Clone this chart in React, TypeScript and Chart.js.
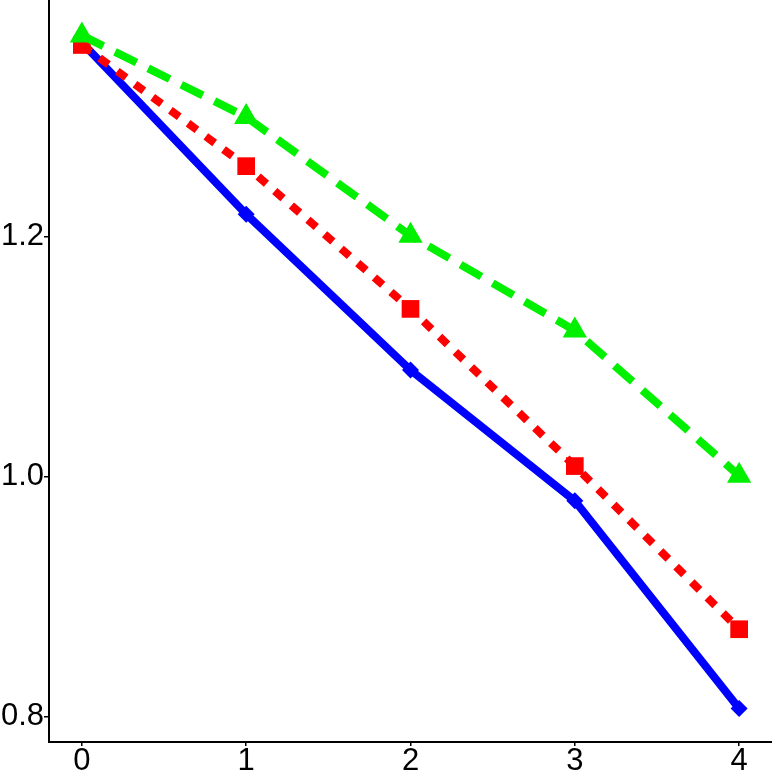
import { useEffect, useRef } from "react"
import { Chart, registerables } from "chart.js"

Chart.register(...registerables)

const xValues = [0, 1, 2, 3, 4]
const blueSeries = [1.362, 1.219, 1.089, 0.98, 0.807]
const redSeries = [1.36, 1.259, 1.14, 1.009, 0.873]
const greenSeries = [1.368, 1.3, 1.201, 1.122, 1.001]
const xTicks = [0, 1, 2, 3, 4]
const yTicks = [0.8, 1.0, 1.2]

const toPoints = (ys: number[]) => xValues.map((x, i) => ({ x, y: ys[i] }))

export default function App() {
  const chartRef = useRef<HTMLCanvasElement>(null)
  const chartInstance = useRef<Chart | null>(null)

  useEffect(() => {
    if (!chartRef.current) return
    if (chartInstance.current) chartInstance.current.destroy()
    const ctx = chartRef.current.getContext("2d")
    if (!ctx) return

    const font = { family: "'Liberation Sans', Arial, sans-serif", size: 31 }

    chartInstance.current = new Chart(ctx, {
      type: "line",
      data: {
        datasets: [
          {
            label: "green",
            data: toPoints(greenSeries),
            borderColor: "#00f000",
            backgroundColor: "#00f000",
            borderWidth: 8,
            borderDash: [24, 13],
            pointStyle: "triangle",
            pointRadius: 14,
            pointBorderWidth: 0,
          },
          {
            label: "red",
            data: toPoints(redSeries),
            borderColor: "#ff0000",
            backgroundColor: "#ff0000",
            borderWidth: 8,
            borderDash: [11, 11],
            pointStyle: "rect",
            pointRadius: 12.5,
            pointBorderWidth: 0,
          },
          {
            label: "blue",
            data: toPoints(blueSeries),
            borderColor: "#0000ff",
            backgroundColor: "#0000ff",
            borderWidth: 8,
            pointStyle: "rectRot",
            pointRadius: 8.5,
            pointBorderWidth: 0,
          },
        ],
      },
      options: {
        animation: false,
        responsive: true,
        maintainAspectRatio: false,
        layout: { padding: 0, autoPadding: false },
        plugins: { legend: { display: false }, tooltip: { enabled: false } },
        scales: {
          x: {
            type: "linear",
            min: -0.2,
            max: 4.2,
            afterBuildTicks: (s: any) => {
              s.ticks = xTicks.map((v) => ({ value: v }))
            },
            afterFit: (s: any) => {
              s.height = 30
              s.paddingLeft = 0
              s.paddingRight = 0
            },
            border: { display: true, color: "#000", width: 2 },
            grid: { drawOnChartArea: false, drawTicks: true, tickLength: 4, color: "#000", lineWidth: 1.5 },
            ticks: { color: "#000", font, padding: -3, maxRotation: 0, callback: (v: any) => String(v) },
          },
          y: {
            type: "linear",
            min: 0.779,
            max: 1.3975,
            afterBuildTicks: (s: any) => {
              s.ticks = yTicks.map((v) => ({ value: v }))
            },
            afterFit: (s: any) => {
              s.width = 49
              s.paddingTop = 0
              s.paddingBottom = 0
            },
            border: { display: true, color: "#000", width: 2 },
            grid: { drawOnChartArea: false, drawTicks: true, tickLength: 5, color: "#000", lineWidth: 1.5 },
            ticks: { color: "#000", font, padding: 0, callback: (v: any) => Number(v).toFixed(1) },
          },
        },
      },
    })

    return () => {
      if (chartInstance.current) chartInstance.current.destroy()
    }
  }, [])

  return (
    <div style={{ position: "absolute", left: 0, top: 0, width: 772, height: 772, background: "#fff" }}>
      <canvas ref={chartRef} />
    </div>
  )
}
